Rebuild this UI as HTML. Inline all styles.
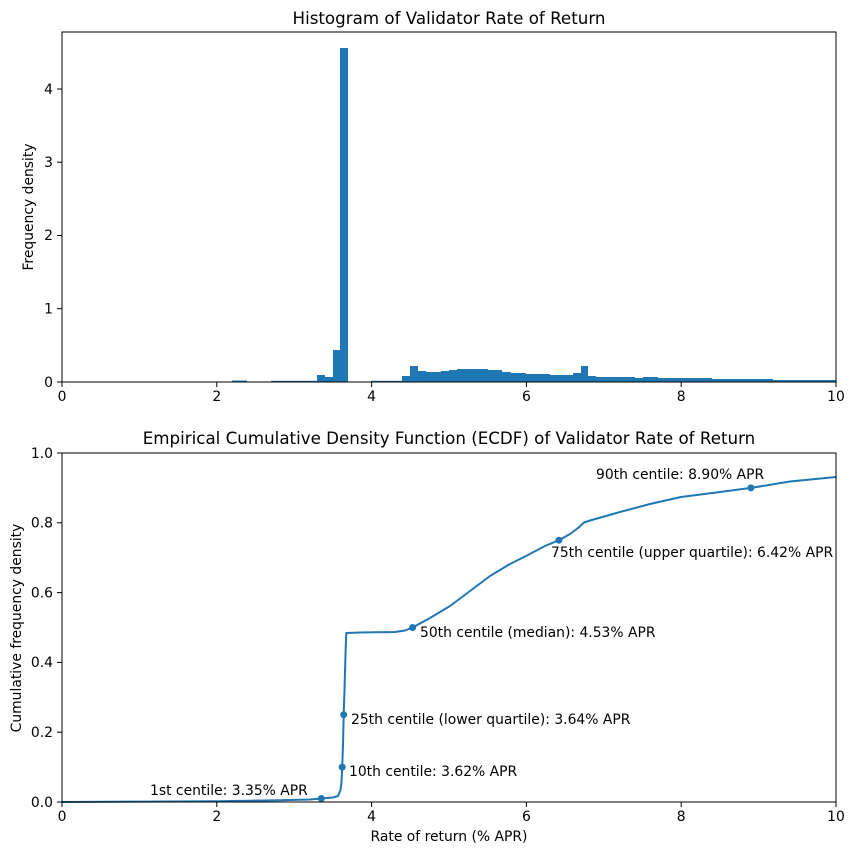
<!DOCTYPE html>
<html><head><style>body{margin:0;background:#fff}svg{display:block;font-family:"DejaVu Sans","Liberation Sans",sans-serif}</style></head><body>
<svg width="855" height="855" viewBox="0 0 855 855">
<g fill="#1f77b4">
<rect x="232" y="380.5" width="15" height="1.5"/>
<rect x="271" y="380.8" width="46" height="1.2"/>
<rect x="317" y="375" width="8" height="7"/>
<rect x="325" y="377" width="8" height="5"/>
<rect x="333" y="350" width="7.5" height="32"/>
<rect x="340" y="48" width="8" height="334"/>
<rect x="371" y="380.8" width="31" height="1.2"/>
<rect x="402" y="376" width="8" height="6"/>
<rect x="410" y="366" width="8" height="16"/>
<rect x="418" y="371" width="8" height="11"/>
<rect x="426" y="372" width="15" height="10"/>
<rect x="441" y="371" width="8" height="11"/>
<rect x="449" y="370" width="8" height="12"/>
<rect x="457" y="369" width="31" height="13"/>
<rect x="488" y="370" width="14" height="12"/>
<rect x="502" y="372" width="9" height="10"/>
<rect x="511" y="373" width="15" height="9"/>
<rect x="526" y="374" width="24" height="8"/>
<rect x="550" y="375" width="23" height="7"/>
<rect x="573" y="373" width="8" height="9"/>
<rect x="581" y="366" width="7" height="16"/>
<rect x="588" y="376" width="8" height="6"/>
<rect x="596" y="377" width="39" height="5"/>
<rect x="635" y="378" width="8" height="4"/>
<rect x="643" y="377" width="15" height="5"/>
<rect x="658" y="378" width="54" height="4"/>
<rect x="712" y="379" width="61" height="3"/>
<rect x="773" y="380" width="63" height="2"/>
</g>
<rect x="62" y="32" width="774" height="350" fill="none" stroke="#000" stroke-width="1"/>
<g stroke="#000"><line x1="62" y1="382" x2="62" y2="387"/><line x1="216.8" y1="382" x2="216.8" y2="387"/><line x1="371.6" y1="382" x2="371.6" y2="387"/><line x1="526.4" y1="382" x2="526.4" y2="387"/><line x1="681.2" y1="382" x2="681.2" y2="387"/><line x1="836" y1="382" x2="836" y2="387"/>
<line x1="57" y1="382" x2="62" y2="382"/><line x1="57" y1="308.7" x2="62" y2="308.7"/><line x1="57" y1="235.5" x2="62" y2="235.5"/><line x1="57" y1="162.2" x2="62" y2="162.2"/><line x1="57" y1="89" x2="62" y2="89"/></g>
<g font-size="13.9" text-anchor="middle"><text x="62" y="401">0</text><text x="216.8" y="401">2</text><text x="371.6" y="401">4</text><text x="526.4" y="401">6</text><text x="681.2" y="401">8</text><text x="836" y="401">10</text></g>
<g font-size="13.9" text-anchor="end"><text x="53" y="387">0</text><text x="53" y="313.5">1</text><text x="53" y="240">2</text><text x="53" y="167">3</text><text x="53" y="94">4</text></g>
<text x="449" y="24" font-size="16.7" text-anchor="middle">Histogram of Validator Rate of Return</text>
<text transform="translate(33,207) rotate(-90)" font-size="13.9" text-anchor="middle">Frequency density</text>

<polyline fill="none" stroke="#1f77b4" stroke-width="2" stroke-linejoin="round" points="62,802 140,801.6 216.8,801.2 280,800.3 310,799.5 321,798.5 333,797.5 338,796 340.5,790 341.5,782 342.2,767 343,745 343.7,714.7 344.5,690 345.2,665 345.8,645 346.3,633 360,632.5 395,632 405,630.5 412.6,627.5 430,618 450,606 470,591 490,576 510,564 526,556 545,546 558.9,540.2 570,534 578,528 584,522.5 590,520.5 620,512 650,504 681,497 720,492 751,487.9 790,481.5 836,477"/>
<g fill="#1f77b4"><circle cx="321.3" cy="798.5" r="3.5"/><circle cx="342.2" cy="767.1" r="3.5"/><circle cx="343.7" cy="714.7" r="3.5"/><circle cx="412.6" cy="627.5" r="3.5"/><circle cx="558.9" cy="540.2" r="3.5"/><circle cx="750.9" cy="487.9" r="3.5"/></g>
<rect x="62" y="453" width="774" height="349" fill="none" stroke="#000" stroke-width="1"/>
<g stroke="#000"><line x1="62" y1="802" x2="62" y2="807"/><line x1="216.8" y1="802" x2="216.8" y2="807"/><line x1="371.6" y1="802" x2="371.6" y2="807"/><line x1="526.4" y1="802" x2="526.4" y2="807"/><line x1="681.2" y1="802" x2="681.2" y2="807"/><line x1="836" y1="802" x2="836" y2="807"/>
<line x1="57" y1="802" x2="62" y2="802"/><line x1="57" y1="732.2" x2="62" y2="732.2"/><line x1="57" y1="662.4" x2="62" y2="662.4"/><line x1="57" y1="592.6" x2="62" y2="592.6"/><line x1="57" y1="522.8" x2="62" y2="522.8"/><line x1="57" y1="453" x2="62" y2="453"/></g>
<g font-size="13.9" text-anchor="middle"><text x="62" y="821">0</text><text x="216.8" y="821">2</text><text x="371.6" y="821">4</text><text x="526.4" y="821">6</text><text x="681.2" y="821">8</text><text x="836" y="821">10</text></g>
<g font-size="13.9" text-anchor="end"><text x="53" y="807">0.0</text><text x="53" y="737">0.2</text><text x="53" y="667">0.4</text><text x="53" y="597.5">0.6</text><text x="53" y="527.5">0.8</text><text x="53" y="458">1.0</text></g>
<text x="449" y="444" font-size="16.7" text-anchor="middle">Empirical Cumulative Density Function (ECDF) of Validator Rate of Return</text>
<text transform="translate(21,628) rotate(-90)" font-size="13.9" text-anchor="middle">Cumulative frequency density</text>
<text x="449" y="841" font-size="13.9" text-anchor="middle">Rate of return (% APR)</text>
<g font-size="13.9"><text x="150" y="795">1st centile: 3.35% APR</text><text x="349" y="776">10th centile: 3.62% APR</text><text x="351" y="724">25th centile (lower quartile): 3.64% APR</text><text x="420" y="637">50th centile (median): 4.53% APR</text><text x="551" y="557">75th centile (upper quartile): 6.42% APR</text><text x="596" y="479">90th centile: 8.90% APR</text></g>
</svg>
</body></html>
